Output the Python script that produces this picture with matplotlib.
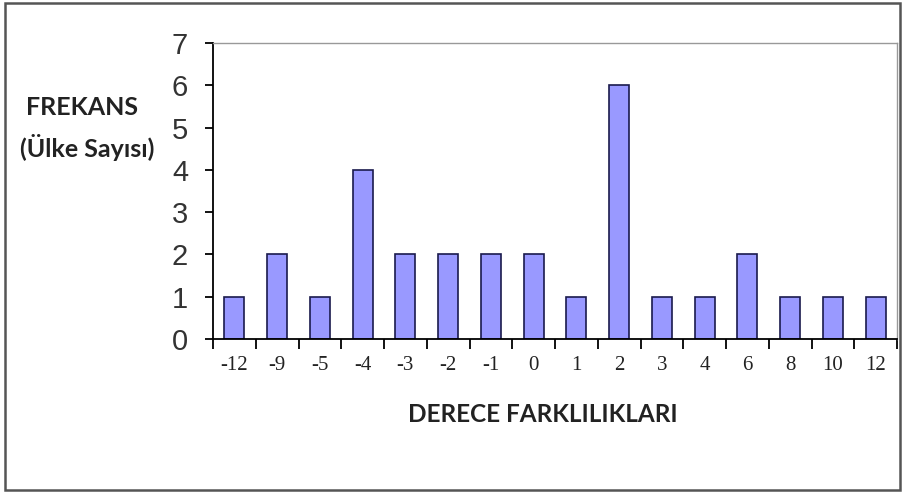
import matplotlib.pyplot as plt
import matplotlib.ticker as mticker
from matplotlib.patches import Rectangle
import numpy as np

# ===== Data =====
categories = ["-12", "-9", "-5", "-4", "-3", "-2", "-1", "0",
              "1", "2", "3", "4", "6", "8", "10", "12"]
counts = [1, 2, 1, 4, 2, 2, 2, 2, 1, 6, 1, 1, 2, 1, 1, 1]
y_ticks = [0, 1, 2, 3, 4, 5, 6, 7]

# ===== Figure =====
fig = plt.figure(figsize=(9.05, 4.95), dpi=100)
ax = fig.add_axes([213 / 905, 1 - 339 / 495, 684 / 905, 296 / 495])

x = np.arange(len(categories))
ax.bar(x, counts, width=0.47, color="#9999ff", edgecolor="#1a1a4d", linewidth=1.2)

ax.set_xlim(-0.5, len(categories) - 0.5)
ax.set_ylim(0, 7)

# x ticks: labels at centres, tick marks between categories
ax.set_xticks(x)
ax.set_xticklabels(categories, fontfamily="Liberation Serif", fontsize=15, color="#222222")
ax.tick_params(axis="x", which="major", length=0, pad=12)
ax.xaxis.set_minor_locator(mticker.FixedLocator(np.arange(-0.5, len(categories), 1.0)))
ax.tick_params(axis="x", which="minor", length=7, width=1.3, direction="out")

ax.set_yticks(y_ticks)
ax.set_yticklabels([str(v) for v in y_ticks], fontfamily="Liberation Sans",
                   fontsize=21, color="#333333")
ax.tick_params(axis="y", length=6, width=1.3, direction="out", pad=12)

for side in ["left", "bottom"]:
    ax.spines[side].set_color("black")
    ax.spines[side].set_linewidth(1.3)
for side in ["top", "right"]:
    ax.spines[side].set_color("#999999")
    ax.spines[side].set_linewidth(1.0)

# axis titles
fig.text(82 / 905, 1 - 107 / 495, "FREKANS", ha="center", va="center",
         fontfamily="Lato", fontweight="bold", fontsize=18, color="#222222")
fig.text(87 / 905, 1 - 148 / 495, "(Ülke Sayısı)", ha="center", va="center",
         fontfamily="Lato", fontweight="bold", fontsize=18, color="#222222")
fig.text(543 / 905, 1 - 415 / 495, "DERECE FARKLILIKLARI", ha="center", va="center",
         fontfamily="Lato", fontweight="bold", fontsize=17.5, color="#222222")

# outer frame
fig.patches.append(Rectangle((5 / 905, 5 / 495), 895 / 905, 487 / 495,
                             transform=fig.transFigure, fill=False,
                             edgecolor="#555555", linewidth=1.8))

fig.savefig("out.png", dpi=100)
